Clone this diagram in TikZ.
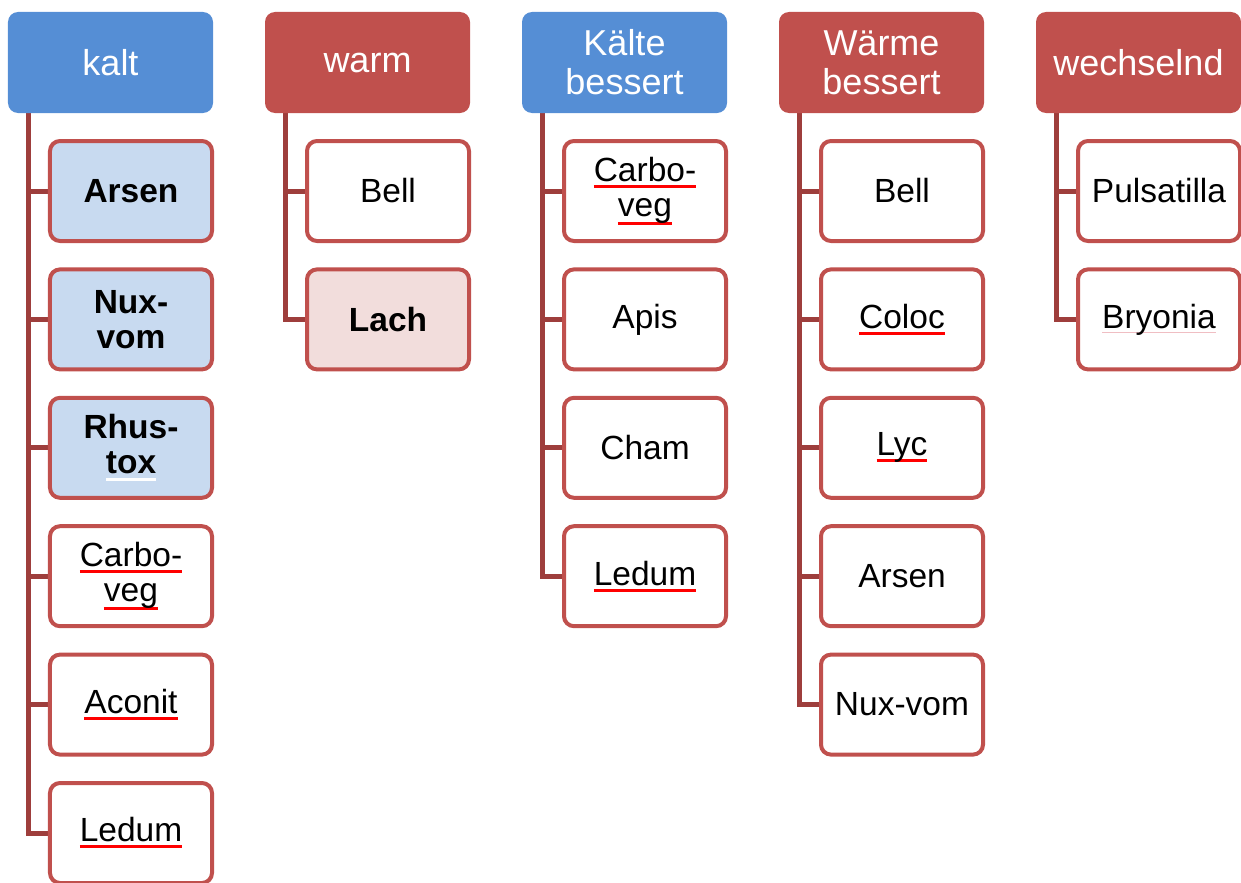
\documentclass[tikz,border=0pt]{standalone}
\usepackage{fontspec}
\setmainfont{Liberation Sans}
\usetikzlibrary{backgrounds}
\definecolor{hblue}{RGB}{85,142,213}
\definecolor{hred}{RGB}{192,80,77}
\definecolor{bred}{RGB}{192,80,77}
\definecolor{lred}{RGB}{158,62,60}
\definecolor{lblue}{RGB}{200,218,240}
\definecolor{lpink}{RGB}{242,221,220}
\definecolor{faintpink}{RGB}{240,190,195}
\newcommand\spl[2][-6.5bp]{\setbox0\hbox{#2}\rlap{\color{red}\rule[#1]{\wd0}{3bp}}\box0}
\newcommand\wul[1]{\setbox0\hbox{#1}\rlap{\color{white}\rule[-7bp]{\wd0}{3bp}}\box0}
\newcommand\ful[1]{\setbox0\hbox{#1}\rlap{\color{faintpink}\rule[-5bp]{\wd0}{1bp}}\box0}
\begin{document}
\begin{tikzpicture}[x=1bp,y=-1bp,
  hdr/.style={rounded corners=10bp, minimum width=205bp, minimum height=101bp, inner sep=0pt,
    text=white, align=center, font=\fontsize{36bp}{39bp}\selectfont},
  child/.style={draw=bred, line width=4bp, fill=white, rounded corners=10bp,
    minimum width=162bp, minimum height=100bp, inner sep=0pt, align=center,
    font=\fontsize{33.5bp}{35bp}\selectfont},
  hl/.style={fill=lblue, font=\fontsize{33.5bp}{35bp}\selectfont\bfseries},
  hp/.style={fill=lpink, font=\fontsize{33.5bp}{35bp}\selectfont\bfseries},
  conn/.style={draw=lred, line width=5bp, line join=miter}]
\useasboundingbox (0,0) rectangle (1241,883);

% headers
\node[hdr, fill=hblue] (h0) at (110.5,62.5) {kalt};
\node[hdr, fill=hred]  (h1) at (367.5,62.5) {warm};
\node[hdr, fill=hblue] (h2) at (624.5,62.5) {Kälte\\bessert};
\node[hdr, fill=hred]  (h3) at (881.5,62.5) {Wärme\\bessert};
\node[hdr, fill=hred]  (h4) at (1138.5,62.5) {wechselnd};

\coordinate (t0) at (28,112);
\coordinate (t1) at (285,112);
\coordinate (t2) at (542,112);
\coordinate (t3) at (799,112);
\coordinate (t4) at (1056,112);

% column 0
\node[child, hl] (c00) at (131,191)   {Arsen};
\node[child, hl] (c01) at (131,319.4) {Nux-\\vom};
\node[child, hl] (c02) at (131,447.8) {Rhus-\\\wul{tox}};
\node[child]     (c03) at (131,576.2) {\spl{Carbo-}\\\spl[-9bp]{veg}};
\node[child]     (c04) at (131,704.6) {\spl{Aconit}};
\node[child]     (c05) at (131,833)   {\spl{Ledum}};

% column 1
\node[child]     (c10) at (388,191)   {Bell};
\node[child, hp] (c11) at (388,319.4) {Lach};

% column 2
\node[child] (c20) at (645,191)   {\spl{Carbo-}\\\spl[-9bp]{veg}};
\node[child] (c21) at (645,319.4) {Apis};
\node[child] (c22) at (645,447.8) {Cham};
\node[child] (c23) at (645,576.2) {\spl{Ledum}};

% column 3
\node[child] (c30) at (902,191)   {Bell};
\node[child] (c31) at (902,319.4) {\spl{Coloc}};
\node[child] (c32) at (902,447.8) {\spl{Lyc}};
\node[child] (c33) at (902,576.2) {Arsen};
\node[child] (c34) at (902,704.6) {Nux-vom};

% column 4
\node[child] (c40) at (1159,191)   {Pulsatilla};
\node[child] (c41) at (1159,319.4) {\ful{Bryonia}};

% connectors
\begin{scope}[on background layer]
  \draw[conn] (t0) |- (c05.west);
  \foreach \c in {c00,c01,c02,c03,c04} \draw[conn] (t0 |- \c.west) -- (\c.west);
  \draw[conn] (t1) |- (c11.west);
  \draw[conn] (t1 |- c10.west) -- (c10.west);
  \draw[conn] (t2) |- (c23.west);
  \foreach \c in {c20,c21,c22} \draw[conn] (t2 |- \c.west) -- (\c.west);
  \draw[conn] (t3) |- (c34.west);
  \foreach \c in {c30,c31,c32,c33} \draw[conn] (t3 |- \c.west) -- (\c.west);
  \draw[conn] (t4) |- (c41.west);
  \draw[conn] (t4 |- c40.west) -- (c40.west);
\end{scope}
\end{tikzpicture}
\end{document}
